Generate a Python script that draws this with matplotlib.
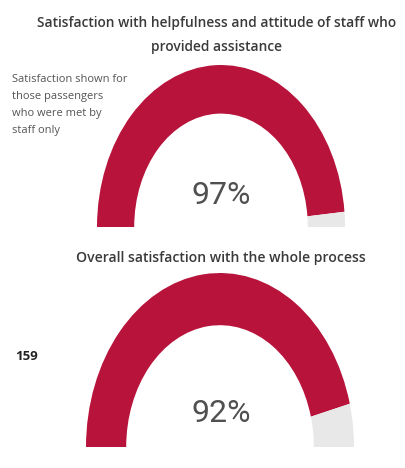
import matplotlib
matplotlib.use("Agg")
import matplotlib.pyplot as plt
from matplotlib.patches import Wedge

# Data
gauge_titles = ["Satisfaction with helpfulness and attitude of staff who\nprovided assistance",
                "Overall satisfaction with the whole process"]
gauge_values = [97, 92]
gauge_max = 100
note_text = "Satisfaction shown for\nthose passengers\nwho were met by\nstaff only"
side_number = "159"

RED = "#B8133B"
GREY = "#E8E8E8"
W, H = 406, 468
fig = plt.figure(figsize=(W / 100, H / 100), dpi=100)
fig.patch.set_facecolor("white")

def px_axes(left, top, right, bottom):
    return fig.add_axes([left / W, 1 - bottom / H, (right - left) / W, (bottom - top) / H])

# gauge boxes in pixel coords (left, top, right, bottom)
boxes = [(97, 65, 345, 227), (86, 273, 354, 447)]

for (l, t, r, b), val in zip(boxes, gauge_values):
    ax = px_axes(l, t, r, b)
    ax.set_xlim(-1, 1)
    ax.set_ylim(0, 1)
    ax.axis("off")
    split = 180 * (1 - val / gauge_max)
    ax.add_patch(Wedge((0, 0), 1, split, 180, width=0.30, facecolor=RED, edgecolor="none"))
    ax.add_patch(Wedge((0, 0), 1, 0, split, width=0.30, facecolor=GREY, edgecolor="none"))

# Titles
title_kw = dict(ha="center", va="center", color="#3a3a3a",
                fontweight="semibold", family=["Open Sans", "DejaVu Sans"])
fig.text(217 / W, 1 - 35 / H, gauge_titles[0], linespacing=1.85, fontsize=9.9, **title_kw)
fig.text(221 / W, 1 - 258 / H, gauge_titles[1], fontsize=10.1, **title_kw)

# Value labels
val_kw = dict(ha="center", va="center", color="#505050", fontsize=23,
              family=["Roboto", "DejaVu Sans"])
fig.text(221 / W, 1 - 195 / H, f"{gauge_values[0]}%", **val_kw)
fig.text(221 / W, 1 - 414 / H, f"{gauge_values[1]}%", **val_kw)

# Note
fig.text(12 / W, 1 - 74 / H, note_text, ha="left", va="top", color="#555555",
         fontsize=8.0, linespacing=1.75, family=["Open Sans", "DejaVu Sans"])

# Side number
fig.text(15 / W, 1 - 357 / H, side_number, ha="left", va="center", color="#222222",
         fontsize=9.5, fontweight="bold", family=["Open Sans", "DejaVu Sans"])

fig.savefig("out.png", dpi=100, facecolor="white")
